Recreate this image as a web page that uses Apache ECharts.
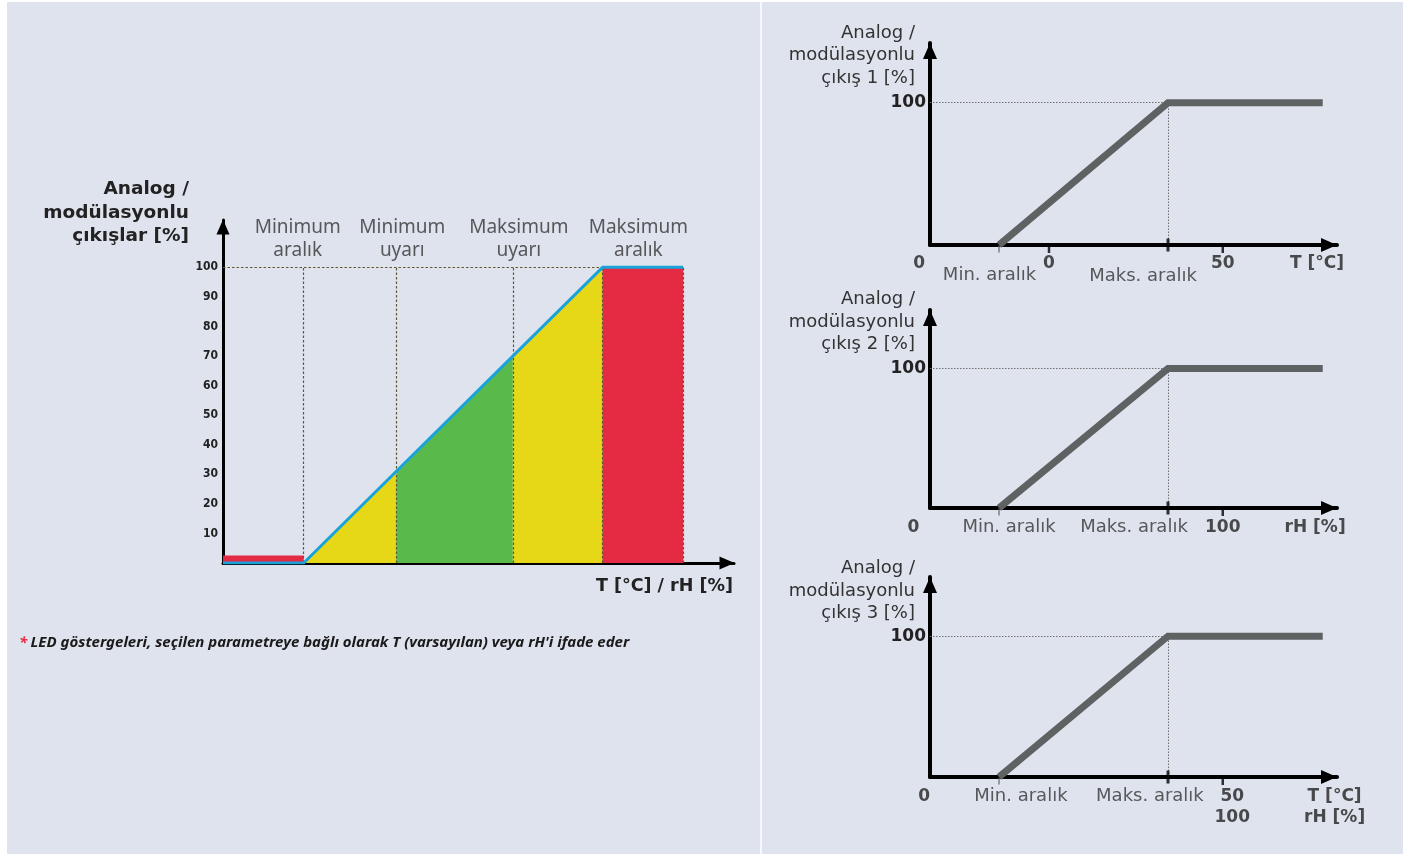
<!DOCTYPE html>
<html>
<head>
<meta charset="utf-8">
<script src="https://cdn.jsdelivr.net/npm/echarts@6/dist/echarts.min.js"></script>
<style>
html,body{margin:0;padding:0;background:#fff;}
#c{width:1418px;height:854px;}
</style>
</head>
<body>
<div id="c"></div>
<script>
// ---------- data ----------
// Left chart: x breakpoints [start, min range, min warning, max warning, max range, end]
const leftBreaksX = [-27, 0, 31, 70, 100, 127];
const leftOutput  = [0, 0, 31, 70, 100, 100];
const leftLowRedValue = 2.5;
const leftZoneLabels = ['Minimum\naralık', 'Minimum\nuyarı', 'Maksimum\nuyarı', 'Maksimum\naralık'];
const leftZoneLabelX = [-2, 33, 72, 112];
const leftZoneLabelY = 109.5;
const leftYTickValues = [10, 20, 30, 40, 50, 60, 70, 80, 90, 100];

// Right charts: ramp [min range, max range, end]
const rampX = [29, 100, 165];
const rampY = [0, 100, 100];
const rightYTitles = ['Analog /\nmodülasyonlu\nçıkış 1 [%]', 'Analog /\nmodülasyonlu\nçıkış 2 [%]', 'Analog /\nmodülasyonlu\nçıkış 3 [%]'];
const rightMinorTicks = [[50, 123], [123], [123]];
const chart1Labels = [['0', -4.6, -13, true], ['Min. aralık', 25, -21, false], ['0', 50, -13, true], ['Maks. aralık', 89.5, -22, false], ['50', 123, -13, true], ['T [°C]', 162.6, -13, true]];
const chart2Labels = [['0', -7, -14, true], ['Min. aralık', 33.2, -14, false], ['Maks. aralık', 85.7, -14, false], ['100', 123, -14, true], ['rH [%]', 161.8, -14, true]];
const chart3Labels = [['0', -2.5, -14, true], ['Min. aralık', 38.2, -14, false], ['Maks. aralık', 92.4, -14, false], ['50', 127, -14, true], ['100', 127, -29, true], ['T [°C]', 170, -14, true], ['rH [%]', 170, -29, true]];
const rightLabels = [chart1Labels, chart2Labels, chart3Labels];

// ---------- styles ----------
const BG = '#dfe3ee';
const YELLOW = '#e6d817';
const GREEN = '#5ab94b';
const RED = '#e52b44';
const BLUE = '#1aa3da';
const GRAY_LINE = '#5e6262';
const SANS = '"DejaVu Sans", Verdana, sans-serif';
const COND = '"DejaVu Sans Condensed", "DejaVu Sans", sans-serif';
const NOTO = '"Noto Sans", "Open Sans", sans-serif';

const chart = echarts.init(document.getElementById('c'), null, {renderer: 'canvas'});

const grids = [
  {left: 223, right: 684, top: 220, bottom: 291},
  {left: 930, right: 81, top: 43, bottom: 609},
  {left: 930, right: 81, top: 310, bottom: 346},
  {left: 930, right: 81, top: 577, bottom: 77}
];

const xAxes = [];
const yAxes = [];
xAxes.push({
  type: 'value', gridIndex: 0, min: -27, max: 144,
  axisLine: {show: true, onZero: false, lineStyle: {color: '#000', width: 3}, symbol: ['none', 'triangle'], symbolSize: [13, 15], symbolOffset: [0, -7]},
  axisTick: {show: false}, axisLabel: {show: false}, splitLine: {show: false}
});
yAxes.push({
  type: 'value', gridIndex: 0, min: 0, max: 116, interval: 10,
  axisLine: {show: true, onZero: false, lineStyle: {color: '#000', width: 3}, symbol: ['none', 'triangle'], symbolSize: [13, 15], symbolOffset: [0, -7]},
  axisTick: {show: false}, splitLine: {show: false},
  axisLabel: {
    show: true, margin: 5, color: '#222', fontSize: 12, fontWeight: 'bold', fontFamily: COND,
    formatter: v => leftYTickValues.indexOf(v) >= 0 ? String(v) : ''
  }
});
for (let i = 1; i <= 3; i++) {
  xAxes.push({
    type: 'value', gridIndex: i, min: 0, max: 171,
    axisLine: {show: true, onZero: false, lineStyle: {color: '#000', width: 4}, symbol: ['none', 'triangle'], symbolSize: [14, 16], symbolOffset: [0, -8]},
    axisTick: {show: false}, axisLabel: {show: false}, splitLine: {show: false}
  });
  yAxes.push({
    type: 'value', gridIndex: i, min: 0, max: 142, interval: 100,
    axisLine: {show: true, onZero: false, lineStyle: {color: '#000', width: 4}, symbol: ['none', 'triangle'], symbolSize: [14, 16], symbolOffset: [0, -8]},
    axisTick: {show: false}, splitLine: {show: false},
    axisLabel: {
      show: true, margin: 4, color: '#222', fontSize: 17, fontWeight: 'bold', fontFamily: SANS,
      formatter: v => v === 100 ? '100' : ''
    }
  });
}

const series = [];
function areaSeg(points, color) {
  return {
    type: 'line', xAxisIndex: 0, yAxisIndex: 0, data: points, symbol: 'none',
    lineStyle: {width: 0}, areaStyle: {color: color, opacity: 1}, z: 2, silent: true
  };
}
series.push(areaSeg([[leftBreaksX[0], leftLowRedValue], [leftBreaksX[1], leftLowRedValue]], RED));
series.push(areaSeg([[leftBreaksX[1], leftOutput[1]], [leftBreaksX[2], leftOutput[2]]], YELLOW));
series.push(areaSeg([[leftBreaksX[2], leftOutput[2]], [leftBreaksX[3], leftOutput[3]]], GREEN));
series.push(areaSeg([[leftBreaksX[3], leftOutput[3]], [leftBreaksX[4], leftOutput[4]]], YELLOW));
series.push(areaSeg([[leftBreaksX[4], leftOutput[4]], [leftBreaksX[5], leftOutput[5]]], RED));
const leftGuides = [];
for (let k = 1; k < leftBreaksX.length; k++) {
  leftGuides.push([{coord: [leftBreaksX[k], 0]}, {coord: [leftBreaksX[k], 100]}]);
}
leftGuides.push([{coord: [leftBreaksX[0], 100]}, {coord: [leftBreaksX[5], 100]}]);
series.push({
  type: 'line', xAxisIndex: 0, yAxisIndex: 0, data: [], symbol: 'none', z: 5,
  markLine: {silent: true, symbol: 'none', animation: false, label: {show: false},
    lineStyle: {type: [2.5, 2], color: '#5e5a2e', width: 1.2}, data: leftGuides}
});
series.push({
  type: 'line', xAxisIndex: 0, yAxisIndex: 0, symbol: 'none', z: 6,
  data: [[leftBreaksX[0], leftOutput[0]], [leftBreaksX[1], leftOutput[1]], [leftBreaksX[4], leftOutput[4]], [leftBreaksX[5], leftOutput[5]]],
  lineStyle: {color: BLUE, width: 3}
});
series.push({
  type: 'scatter', xAxisIndex: 0, yAxisIndex: 0, symbolSize: 1, clip: false, z: 7,
  itemStyle: {color: 'rgba(0,0,0,0)'},
  data: leftZoneLabels.map((t, i) => ({value: [leftZoneLabelX[i], leftZoneLabelY], name: t})),
  label: {show: true, position: 'inside', formatter: '{b}', color: '#333', fontSize: 19, lineHeight: 23, fontFamily: NOTO}
});

for (let i = 1; i <= 3; i++) {
  series.push({
    type: 'line', xAxisIndex: i, yAxisIndex: i, data: [], symbol: 'none', z: 3,
    markLine: {silent: true, symbol: 'none', animation: false, label: {show: false},
      lineStyle: {type: [1.5, 1.5], color: '#6f6f6f', width: 1},
      data: [[{coord: [0, rampY[1]]}, {coord: [rampX[1], rampY[1]]}], [{coord: [rampX[1], 0]}, {coord: [rampX[1], rampY[1]]}]]}
  });
  series.push({
    type: 'line', xAxisIndex: i, yAxisIndex: i, symbol: 'none', z: 5,
    data: rampX.map((x, k) => [x, rampY[k]]),
    lineStyle: {color: GRAY_LINE, width: 7, cap: 'butt', join: 'miter'}
  });
  const tickData = [];
  tickData.push({value: [rampX[0], 0], symbolSize: [1.5, 7], symbolOffset: [0, 4], itemStyle: {color: '#666'}});
  tickData.push({value: [rampX[1], 0], symbolSize: [3, 13], symbolOffset: [0, 0], itemStyle: {color: '#000'}});
  rightMinorTicks[i - 1].forEach(x => tickData.push({value: [x, 0], symbolSize: [2.5, 8], symbolOffset: [0, 4], itemStyle: {color: '#000'}}));
  series.push({
    type: 'scatter', xAxisIndex: i, yAxisIndex: i, symbol: 'rect', clip: false, z: 8, data: tickData
  });
  series.push({
    type: 'scatter', xAxisIndex: i, yAxisIndex: i, symbolSize: 1, clip: false, z: 7,
    itemStyle: {color: 'rgba(0,0,0,0)'},
    data: rightLabels[i - 1].map(l => ({
      value: [l[1], l[2]], name: l[0],
      label: {fontWeight: l[3] ? 'bold' : 'normal', color: l[3] ? '#222' : '#333', fontSize: l[3] ? 17 : 18}
    })),
    label: {show: true, position: 'inside', formatter: '{b}', fontFamily: SANS}
  });
}

const graphics = [
  {type: 'rect', shape: {x: 7, y: 2, width: 1396, height: 852}, style: {fill: BG}, z: -10, silent: true},
  {type: 'rect', shape: {x: 760, y: 2, width: 2, height: 852}, style: {fill: '#f7f8fb'}, z: -9, silent: true},
  {type: 'text', x: 189, y: 213, z: 10, style: {text: 'Analog /\nmodülasyonlu\nçıkışlar [%]', align: 'right', verticalAlign: 'middle',
    fontSize: 18.5, fontWeight: 'bold', fontFamily: SANS, fill: '#222', lineHeight: 23.5}},
  {type: 'text', x: 733, y: 586, z: 10, style: {text: 'T [°C] / rH [%]', align: 'right', verticalAlign: 'middle',
    fontSize: 17.5, fontWeight: 'bold', fontFamily: SANS, fill: '#222'}},
  {type: 'text', x: 19, y: 643, z: 10, style: {
    text: '{r|*} {t|LED göstergeleri, seçilen parametreye bağlı olarak T (varsayılan) veya rH\'i ifade eder}',
    verticalAlign: 'middle', align: 'left',
    rich: {
      r: {fill: RED, fontSize: 15, fontWeight: 'bold', fontStyle: 'italic', fontFamily: NOTO},
      t: {fill: '#1a1a1a', fontSize: 15, fontWeight: 'bold', fontStyle: 'italic', fontFamily: NOTO}
    }}}
];
const titleY = [55.5, 322, 591];
for (let i = 0; i < 3; i++) {
  graphics.push({type: 'text', x: 915, y: titleY[i], z: 10, style: {text: rightYTitles[i], align: 'right', verticalAlign: 'middle',
    fontSize: 18, fontFamily: SANS, fill: '#333', lineHeight: 22.5}});
}

chart.setOption({
  animation: false,
  backgroundColor: '#ffffff',
  grid: grids,
  xAxis: xAxes,
  yAxis: yAxes,
  series: series,
  graphic: graphics
});
</script>
</body>
</html>
